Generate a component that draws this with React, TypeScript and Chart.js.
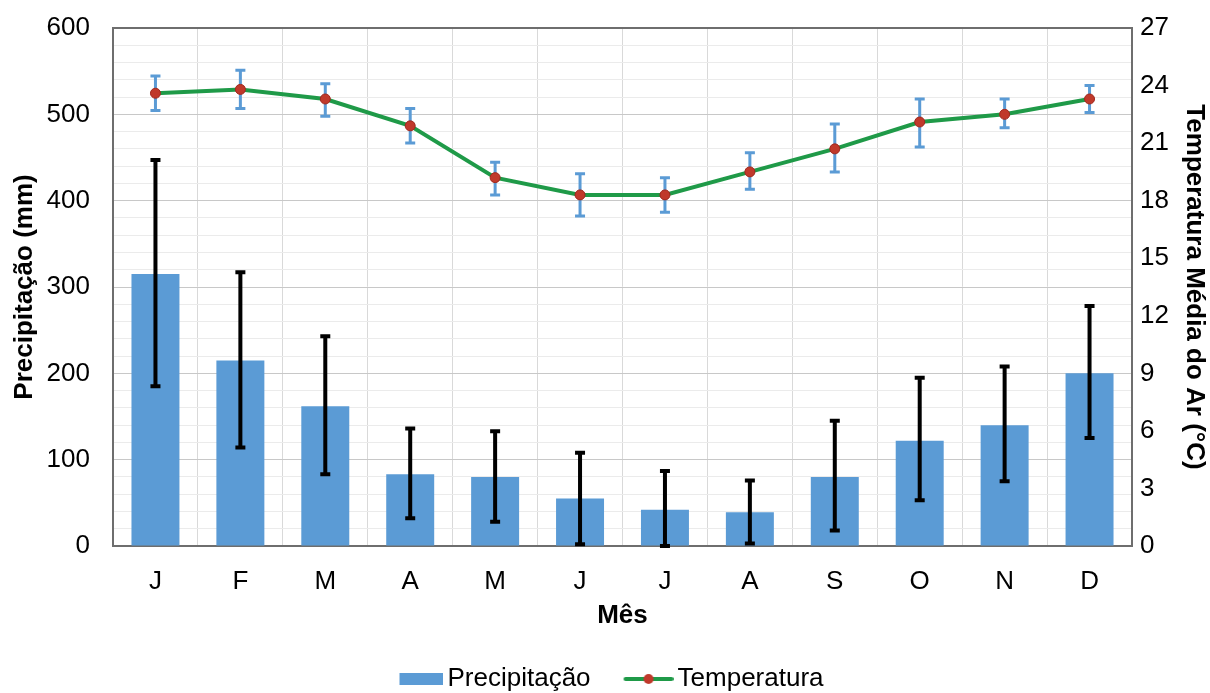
import React, { useEffect, useRef } from "react";
import { Chart, registerables } from "chart.js";

Chart.register(...registerables);

const months = ["J", "F", "M", "A", "M", "J", "J", "A", "S", "O", "N", "D"];
const precipitation = [315, 215, 162, 83, 80, 55, 42, 39, 80, 122, 140, 200];
const precipLow = [185, 114, 83, 32, 28, 2, 0, 3, 18, 53, 75, 125];
const precipHigh = [447, 317, 243, 136, 133, 108, 87, 76, 145, 195, 208, 278];
const temperature = [23.6, 23.8, 23.3, 21.9, 19.2, 18.3, 18.3, 19.5, 20.7, 22.1, 22.5, 23.3];
const tempLow = [22.7, 22.8, 22.4, 21.0, 18.3, 17.2, 17.4, 18.6, 19.5, 20.8, 21.8, 22.6];
const tempHigh = [24.5, 24.8, 24.1, 22.8, 20.0, 19.4, 19.2, 20.5, 22.0, 23.3, 23.3, 24.0];

const FONT = "'Liberation Sans', Arial, sans-serif";
const BLUE = "#5B9BD5";
const GREEN = "#1F9A48";
const RED = "#C0392B";

function drawErrors(chart: any, dsIndex: number, low: number[], high: number[], axisId: string, color: string, lw: number, cap: number) {
  const ctx = chart.ctx;
  const meta = chart.getDatasetMeta(dsIndex);
  const scale = chart.scales[axisId];
  ctx.save();
  ctx.strokeStyle = color;
  ctx.lineWidth = lw;
  ctx.lineCap = "butt";
  meta.data.forEach((el: any, i: number) => {
    const x = el.x;
    const yl = scale.getPixelForValue(low[i]);
    const yh = scale.getPixelForValue(high[i]);
    ctx.beginPath();
    ctx.moveTo(x, yl);
    ctx.lineTo(x, yh);
    ctx.moveTo(x - cap, yl);
    ctx.lineTo(x + cap, yl);
    ctx.moveTo(x - cap, yh);
    ctx.lineTo(x + cap, yh);
    ctx.stroke();
  });
  ctx.restore();
}

const errorPlugin = {
  id: "errorBars",
  afterDatasetDraw(chart: any, args: any) {
    if (args.index === 0) drawErrors(chart, 0, precipLow, precipHigh, "y", "#000000", 4, 5);
  },
  beforeDatasetDraw(chart: any, args: any) {
    if (args.index === 1) drawErrors(chart, 1, tempLow, tempHigh, "y1", BLUE, 3, 5);
  },
};

// legend icons: visible part sits at the right of a 58px image
function makeBarIcon() {
  const c = document.createElement("canvas");
  c.width = 58;
  c.height = 14;
  const g = c.getContext("2d")!;
  g.fillStyle = BLUE;
  g.fillRect(14, 1, 44, 12);
  return c;
}

function makeLineIcon() {
  const c = document.createElement("canvas");
  c.width = 58;
  c.height = 14;
  const g = c.getContext("2d")!;
  g.strokeStyle = GREEN;
  g.lineWidth = 4;
  g.lineCap = "round";
  g.beginPath();
  g.moveTo(10, 7);
  g.lineTo(56, 7);
  g.stroke();
  g.fillStyle = RED;
  g.beginPath();
  g.arc(33, 7, 5, 0, Math.PI * 2);
  g.fill();
  return c;
}

export default function App() {
  const ref = useRef<HTMLCanvasElement>(null);
  useEffect(() => {
    document.body.style.margin = "0";
    const barIcon = makeBarIcon();
    const lineIcon = makeLineIcon();
    const chart = new Chart(ref.current!, {
      type: "bar",
      data: {
        labels: months,
        datasets: [
          {
            type: "bar",
            label: "Precipitação",
            data: precipitation,
            backgroundColor: BLUE,
            yAxisID: "y",
            barPercentage: 0.565,
            categoryPercentage: 1,
            order: 2,
          },
          {
            type: "line",
            label: "Temperatura",
            data: temperature,
            borderColor: GREEN,
            borderWidth: 4,
            pointBackgroundColor: RED,
            pointBorderColor: "#A0281E",
            pointBorderWidth: 1,
            pointRadius: 5,
            tension: 0,
            yAxisID: "y1",
            order: 1,
          },
        ] as any,
      },
      options: {
        animation: false,
        responsive: false,
        maintainAspectRatio: false,
        layout: { padding: { top: 28, left: 8, right: 0, bottom: -9 } },
        plugins: {
          tooltip: { enabled: false },
          legend: {
            position: "bottom",
            labels: {
              font: { family: FONT, size: 26 },
              color: "#000",
              usePointStyle: true,
              pointStyleWidth: 40,
              padding: 34,
              generateLabels: () => [
                { text: "Precipitação", pointStyle: barIcon as any, datasetIndex: 0, fillStyle: BLUE, strokeStyle: BLUE, lineWidth: 0, hidden: false, fontColor: "#000" },
                { text: "Temperatura", pointStyle: lineIcon as any, datasetIndex: 1, fillStyle: GREEN, strokeStyle: GREEN, lineWidth: 0, hidden: false, fontColor: "#000" },
              ],
            },
          },
        },
        scales: {
          x: {
            grid: {
              color: "#D9D9D9",
              lineWidth: 1,
              offset: true,
              drawTicks: false,
            },
            border: { color: "#6E6E6E", width: 2 },
            ticks: { font: { family: FONT, size: 26 }, color: "#000", padding: 20 },
            title: { display: true, text: "Mês", font: { family: FONT, size: 26, weight: "bold" }, color: "#000", padding: { top: 0, bottom: 1 } },
            afterFit: (s: any) => { s.height = 86; },
          },
          y: {
            position: "left",
            min: 0,
            max: 600,
            ticks: {
              stepSize: 20,
              autoSkip: false,
              font: { family: FONT, size: 26 },
              color: "#000",
              padding: 23,
              callback: (v: any) => (Number(v) % 100 === 0 ? String(v) : ""),
            },
            grid: {
              drawTicks: false,
              color: (c: any) => {
                const v = c.tick ? c.tick.value : 0;
                if (v === 600) return "#6E6E6E";
                return v % 100 === 0 ? "#C8C8C8" : "#EBEBEB";
              },
              lineWidth: (c: any) => (c.tick && c.tick.value === 600 ? 2 : 1),
            },
            border: { color: "#6E6E6E", width: 2 },
            title: { display: true, text: "Precipitação (mm)", font: { family: FONT, size: 26, weight: "bold" }, color: "#000", padding: { top: 1, bottom: 0 } },
            afterFit: (s: any) => { s.width = 105; s.paddingTop = 0; s.paddingBottom = 0; },
          },
          y1: {
            position: "right",
            min: 0,
            max: 27,
            ticks: { stepSize: 3, font: { family: FONT, size: 26 }, color: "#000", padding: 8 },
            grid: { drawOnChartArea: false, drawTicks: false },
            border: { color: "#6E6E6E", width: 2 },
            title: { display: true, text: "Temperatura Média do Ar (°C)", font: { family: FONT, size: 26, weight: "bold" }, color: "#000", padding: { top: 0, bottom: 0 } },
            afterFit: (s: any) => { s.width = 78; s.paddingTop = 0; s.paddingBottom = 0; },
          },
        },
      },
      plugins: [errorPlugin],
    } as any);
    return () => chart.destroy();
  }, []);
  return <canvas ref={ref} width={1210} height={693} style={{ display: "block" }} />;
}
